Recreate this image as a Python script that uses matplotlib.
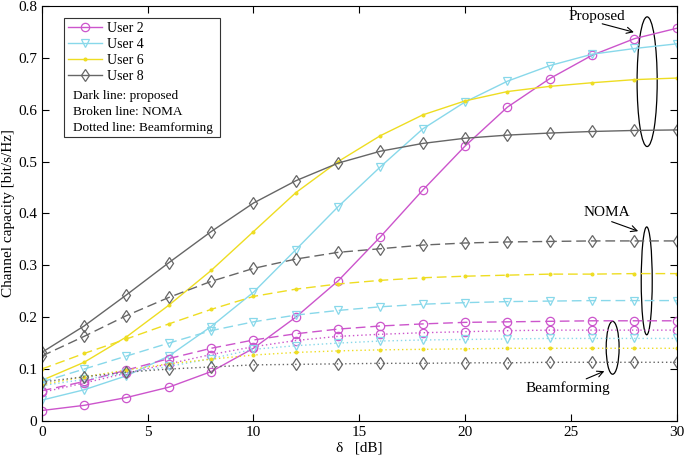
import matplotlib
matplotlib.use('Agg')
import matplotlib.pyplot as plt
from matplotlib.patches import Ellipse, Rectangle
from matplotlib.ticker import FormatStrFormatter

plt.rcParams['font.family'] = 'Liberation Serif'
plt.rcParams['font.size'] = 11

delta = list(range(0, 31, 2))
users = ['User 2', 'User 4', 'User 6', 'User 8']

# proposed (solid)
prop_u2 = [0.02, 0.03, 0.045, 0.065, 0.095, 0.14, 0.2, 0.27, 0.355, 0.445, 0.53, 0.605, 0.66, 0.705, 0.737, 0.757]
prop_u4 = [0.04, 0.06, 0.087, 0.125, 0.182, 0.248, 0.33, 0.413, 0.49, 0.563, 0.615, 0.655, 0.685, 0.707, 0.718, 0.727]
prop_u6 = [0.078, 0.113, 0.162, 0.223, 0.29, 0.365, 0.44, 0.5, 0.55, 0.59, 0.617, 0.635, 0.645, 0.652, 0.658, 0.661]
prop_u8 = [0.132, 0.183, 0.243, 0.305, 0.365, 0.42, 0.463, 0.497, 0.52, 0.535, 0.545, 0.551, 0.555, 0.558, 0.56, 0.561]

# NOMA (dashed)
noma_u2 = [0.058, 0.076, 0.098, 0.12, 0.14, 0.156, 0.168, 0.177, 0.183, 0.187, 0.19, 0.191, 0.192, 0.193, 0.193, 0.193]
noma_u4 = [0.075, 0.1, 0.125, 0.15, 0.174, 0.191, 0.204, 0.213, 0.22, 0.225, 0.228, 0.23, 0.231, 0.232, 0.232, 0.232]
noma_u6 = [0.1, 0.13, 0.158, 0.187, 0.215, 0.24, 0.254, 0.264, 0.271, 0.276, 0.279, 0.281, 0.283, 0.283, 0.284, 0.284]
noma_u8 = [0.125, 0.163, 0.203, 0.238, 0.269, 0.294, 0.312, 0.325, 0.332, 0.339, 0.343, 0.345, 0.346, 0.347, 0.347, 0.347]

# beamforming (dotted)
bf_u2 = [0.055, 0.073, 0.092, 0.11, 0.128, 0.143, 0.155, 0.163, 0.167, 0.17, 0.172, 0.174, 0.175, 0.175, 0.175, 0.175]
bf_u4 = [0.068, 0.08, 0.092, 0.105, 0.12, 0.138, 0.145, 0.15, 0.154, 0.156, 0.157, 0.158, 0.159, 0.159, 0.159, 0.159]
bf_u6 = [0.07, 0.085, 0.098, 0.11, 0.119, 0.127, 0.132, 0.135, 0.137, 0.138, 0.139, 0.14, 0.14, 0.14, 0.14, 0.14]
bf_u8 = [0.075, 0.085, 0.094, 0.1, 0.104, 0.108, 0.109, 0.11, 0.111, 0.111, 0.112, 0.112, 0.113, 0.113, 0.113, 0.113]

notes = ['Dark line: proposed', 'Broken line: NOMA', 'Dotted line: Beamforming']

colors = ['#cc55cc', '#88d8ea', '#eedd22', '#666666']
markers = ['o', 'v', '.', 'd']

fig, ax = plt.subplots(figsize=(6.85, 4.59), dpi=100)
fig.subplots_adjust(left=0.061, right=0.988, bottom=0.083, top=0.987)

groups = [
    ([prop_u2, prop_u4, prop_u6, prop_u8], '-'),
    ([noma_u2, noma_u4, noma_u6, noma_u8], (0, (7, 3.5))),
    ([bf_u2, bf_u4, bf_u6, bf_u8], (0, (1, 2))),
]
handles = []
for g, (series, ls) in enumerate(groups):
    for i, vals in enumerate(series):
        ms = 4 if markers[i] == '.' else 6
        ln, = ax.plot(delta, vals, linestyle=ls, color=colors[i], lw=1,
                      marker=markers[i], ms=ms, mfc='none' if markers[i] != '.' else colors[i],
                      mec=colors[i], mew=0.9)
        if g == 0:
            handles.append(ln)

ax.set_xlim(0, 30)
ax.set_ylim(0, 0.8)
ax.set_xticks(range(0, 31, 5))
ax.set_yticks([i / 10 for i in range(9)])
ax.yaxis.set_major_formatter(FormatStrFormatter('%g'))
ax.tick_params(direction='in', top=True, right=True, length=5)
ax.set_xlabel('δ   [dB]', labelpad=2)
ax.set_ylabel('Channel capacity [bit/s/Hz]', labelpad=2)

# legend box: frame drawn by hand so the note lines fit inside
ax.add_patch(Rectangle((0.0346, 0.684), 0.2457, 0.287, transform=ax.transAxes,
                       facecolor='white', edgecolor='#333333', lw=0.8, zorder=4))
leg = ax.legend(handles, users, loc='upper left', bbox_to_anchor=(0.034, 0.972),
                frameon=False, handlelength=2.5, handletextpad=0.35, labelspacing=0.22,
                borderpad=0.3, borderaxespad=0, fontsize=10)
leg.set_zorder(5)
for k, note in enumerate(notes):
    ax.text(0.0488, 0.784 - 0.0385 * k, note, transform=ax.transAxes,
            fontsize=9.5, va='center', ha='left', zorder=6)

# ellipses and annotations
ax.add_patch(Ellipse((28.6, 0.654), 0.95, 0.25, fill=False, color='black', lw=0.9))
ax.add_patch(Ellipse((28.58, 0.27), 0.52, 0.208, fill=False, color='black', lw=0.9))
ax.add_patch(Ellipse((26.97, 0.141), 0.61, 0.102, fill=False, color='black', lw=0.9))

ap = dict(arrowstyle='->', color='black', lw=0.8)
ax.text(26.2, 0.779, 'Proposed', ha='center', va='center')
ax.annotate('', xy=(28.1, 0.748), xytext=(26.35, 0.767), arrowprops=ap)
ax.text(26.7, 0.401, 'NOMA', ha='center', va='center')
ax.annotate('', xy=(28.3, 0.364), xytext=(26.8, 0.386), arrowprops=ap)
ax.text(24.85, 0.064, 'Beamforming', ha='center', va='center')
ax.annotate('', xy=(26.7, 0.098), xytext=(25.6, 0.079), arrowprops=ap)

fig.savefig('out.png', dpi=100)
